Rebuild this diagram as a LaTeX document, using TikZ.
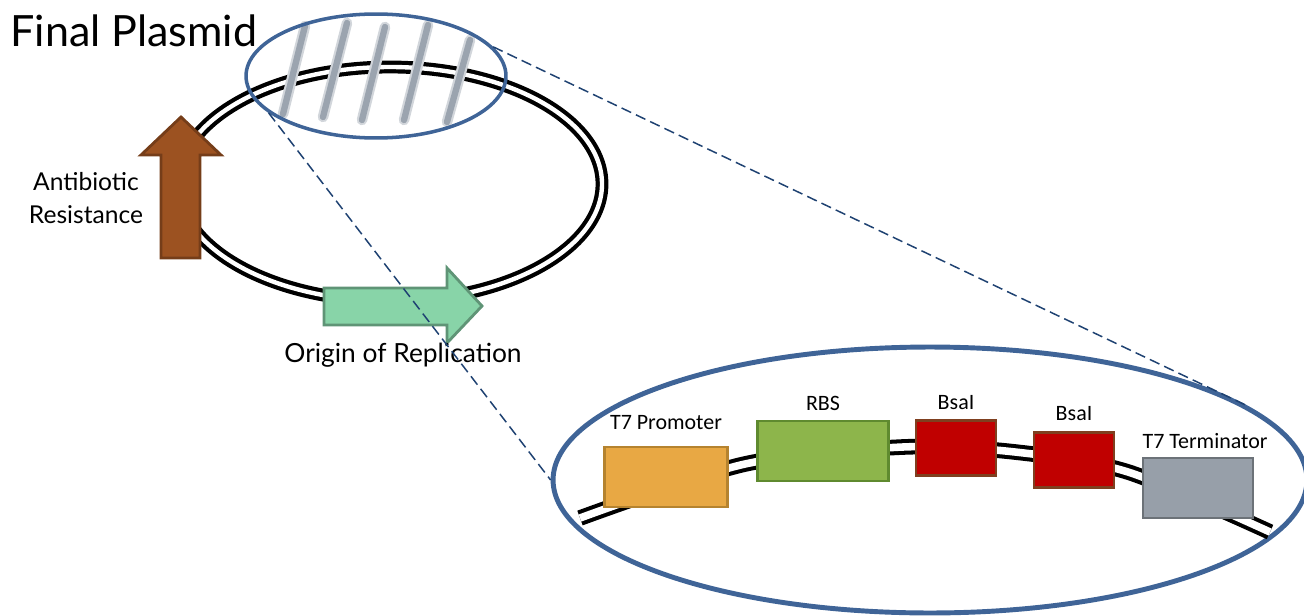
\documentclass[tikz,border=0pt]{standalone}
\usepackage{fontspec}
\setmainfont{Lato}
\newfontfamily\calibri{Carlito}
\usetikzlibrary{positioning,shapes.geometric}
\definecolor{zoomblue}{HTML}{3F6497}
\definecolor{dashblue}{HTML}{1F4272}
\definecolor{resbrown}{HTML}{9C5221}
\definecolor{oriteal}{HTML}{88D4A8}
\definecolor{ribbon}{HTML}{9BA4AF}

\begin{document}
\begin{tikzpicture}[x=0.02cm,y=-0.02cm,
  strand/.style={draw=black,line width=2.4pt,double=white,double distance=2.5pt},
  part/.style={draw,line width=1.5pt,inner sep=0pt,minimum height=1.2cm},
  tag/.style={inner sep=0pt,font=\calibri\fontsize{12.5}{15}\selectfont},
  stripe/.style={ribbon,line width=3.6pt,line cap=round}]
\useasboundingbox (0,0) rectangle (1304,615);

% the plasmid
\draw[strand] (390,184) ellipse [x radius=212,y radius=117];
\foreach \xa/\ya/\xb/\yb in {305/26/283/114,347/23/323/117,385/27/362/120,428/25/404/120,470/40/447/122}{
  \draw[ribbon!45,line width=6pt,line cap=round] (\xa,\ya) -- (\xb,\yb);
  \draw[stripe] (\xa,\ya) -- (\xb,\yb);
}

% resistance and ori
\draw[fill=resbrown,draw=resbrown!75!black,line width=1.6pt]
  (161,258) -- (161,155) -- (141,155) -- (181,117) -- (221,155) -- (200,155) -- (200,258) -- cycle;
\draw[fill=oriteal,draw=oriteal!70!black,line width=1.6pt]
  (324,288) -- (447,288) -- (447,268) -- (482,306) -- (447,343) -- (447,325) -- (324,325) -- cycle;

\node[anchor=base west,inner sep=0pt,font=\fontsize{24.5}{29}\selectfont] (title) at (10,47) {Final Plasmid};
\node[align=center,inner sep=0pt,font=\fontsize{14}{18.7}\selectfont] (abr) at (86,198) {Antibiotic\\Resistance};
\node[anchor=base,inner sep=0pt,font=\fontsize{15}{18}\selectfont] (ori) at (403,362) {Origin of Replication};

% zoom
\node[ellipse,draw=zoomblue,line width=2pt,inner sep=0pt,minimum width=5.2cm,minimum height=2.48cm] (lens) at (376,76) {};
\node[ellipse,draw=zoomblue,line width=2.8pt,inner sep=0pt,minimum width=15.08cm,minimum height=5.32cm] (zoom) at (930,480) {};

\draw[strand,line width=2.3pt,double distance=4.3pt] plot[smooth] coordinates {(580,518) (745,464) (903,447) (1015,452) (1128,472) (1270,532)};

\node[part,fill={rgb,255:red,232;green,168;blue,68},draw={rgb,255:red,181;green,131;blue,47},minimum width=2.46cm] (prom) at (666,477) {};
\node[part,fill={rgb,255:red,141;green,181;blue,75},draw={rgb,255:red,95;green,138;blue,47},minimum width=2.62cm] (rbs) at (823,451) {};
\node[part,fill={rgb,255:red,192;green,0;blue,0},draw={rgb,255:red,127;green,63;blue,31},minimum width=1.6cm,minimum height=1.1cm] (bsa1) at (956,448) {};
\node[part,fill={rgb,255:red,192;green,0;blue,0},draw={rgb,255:red,127;green,63;blue,31},minimum width=1.6cm,minimum height=1.1cm] (bsa2) at (1074,460) {};
\node[part,fill={rgb,255:red,151;green,159;blue,169},draw={rgb,255:red,108;green,114;blue,120},minimum width=2.2cm] (term) at (1198,488) {};

\node[tag,above=9pt of prom] (promtxt) {T7 Promoter};
\node[tag,above=5pt of rbs] (rbstxt) {RBS};
\node[tag,above=5pt of bsa1] (bsa1txt) {BsaI};
\node[tag,above=6pt of bsa2] (bsa2txt) {BsaI};
\node[tag,above=4.5pt of term,xshift=4pt] (termtxt) {T7 Terminator};

\draw[dashblue,line width=0.85pt,dash pattern=on 6pt off 3pt] (lens.199) -- (zoom.west);
\draw[dashblue,line width=0.85pt,dash pattern=on 6pt off 3pt] (lens.14) -- (zoom.13);
\end{tikzpicture}
\end{document}
